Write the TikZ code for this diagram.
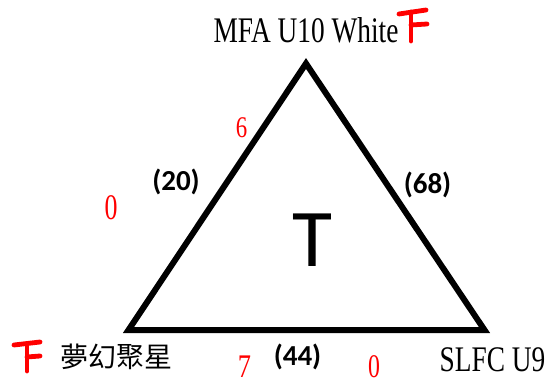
\documentclass[tikz,border=0pt]{standalone}
\usepackage{fontspec}
\setmainfont{Liberation Serif}
\newfontfamily\cjk{Noto Sans CJK TC}
\newfontfamily\carl{Carlito}
\usepackage{graphicx}
\tikzset{
  lbl/.style={inner sep=0pt, outer sep=0pt, anchor=center},
  team/.style={lbl, font=\fontsize{36}{40}\selectfont},
  score/.style={lbl, text=red},
  count/.style={lbl, font=\carl\bfseries\fontsize{29}{32}\selectfont},
  redmark/.style={red, line width=4.8pt, line cap=round, line join=round},
  edge/.style={line width=6pt, line join=miter}
}
\begin{document}
\begin{tikzpicture}[x=1pt,y=-1pt]
\useasboundingbox (0,0) rectangle (554,385);
% triangle
\coordinate (A) at (306,63.5);
\coordinate (B) at (128.5,330);
\coordinate (C) at (484.5,330);
\draw[edge] (A) -- (B) -- (C) -- cycle;
% centre letter
\node[lbl, font=\carl\fontsize{82}{90}\selectfont] (t) at (312.5,240.5) {T};
% team names
\node[team] (mfa) at (306,30) {\scalebox{0.76}[1]{MFA U10 White}};
\node[team] (slfc) at (492.5,360) {\scalebox{0.76}[1]{SLFC U9}};
\node[lbl, font=\cjk\fontsize{28}{30}\selectfont] (mhjx) at (116.5,356.5) {夢幻聚星};
% counts
\node[count] (c20) at (176,181.5) {(20)};
\node[count] (c68) at (427.5,185) {(68)};
\node[count] (c44) at (297.5,356.5) {(44)};
% red scores
\node[score, font=\fontsize{30}{34}\selectfont] (s6) at (241.5,128) {\scalebox{0.76}[1]{6}};
\node[score, font=\fontsize{36}{40}\selectfont] (s0a) at (111,207.5) {\scalebox{0.72}[1]{0}};
\node[score, font=\fontsize{33}{38}\selectfont] (s7) at (244.5,367) {\scalebox{0.8}[1]{7}};
\node[score, font=\fontsize{33}{38}\selectfont] (s0b) at (374,367) {\scalebox{0.72}[1]{0}};
% red marks
\draw[redmark] (399,14) -- (426,10);
\draw[redmark] (411,12) -- (411,41);
\draw[redmark] (411,25) -- (427,24);
\draw[redmark] (14,345) -- (40,342);
\draw[redmark] (27,344) -- (27,371);
\draw[redmark] (27,357) -- (40,356);
\end{tikzpicture}
\end{document}
